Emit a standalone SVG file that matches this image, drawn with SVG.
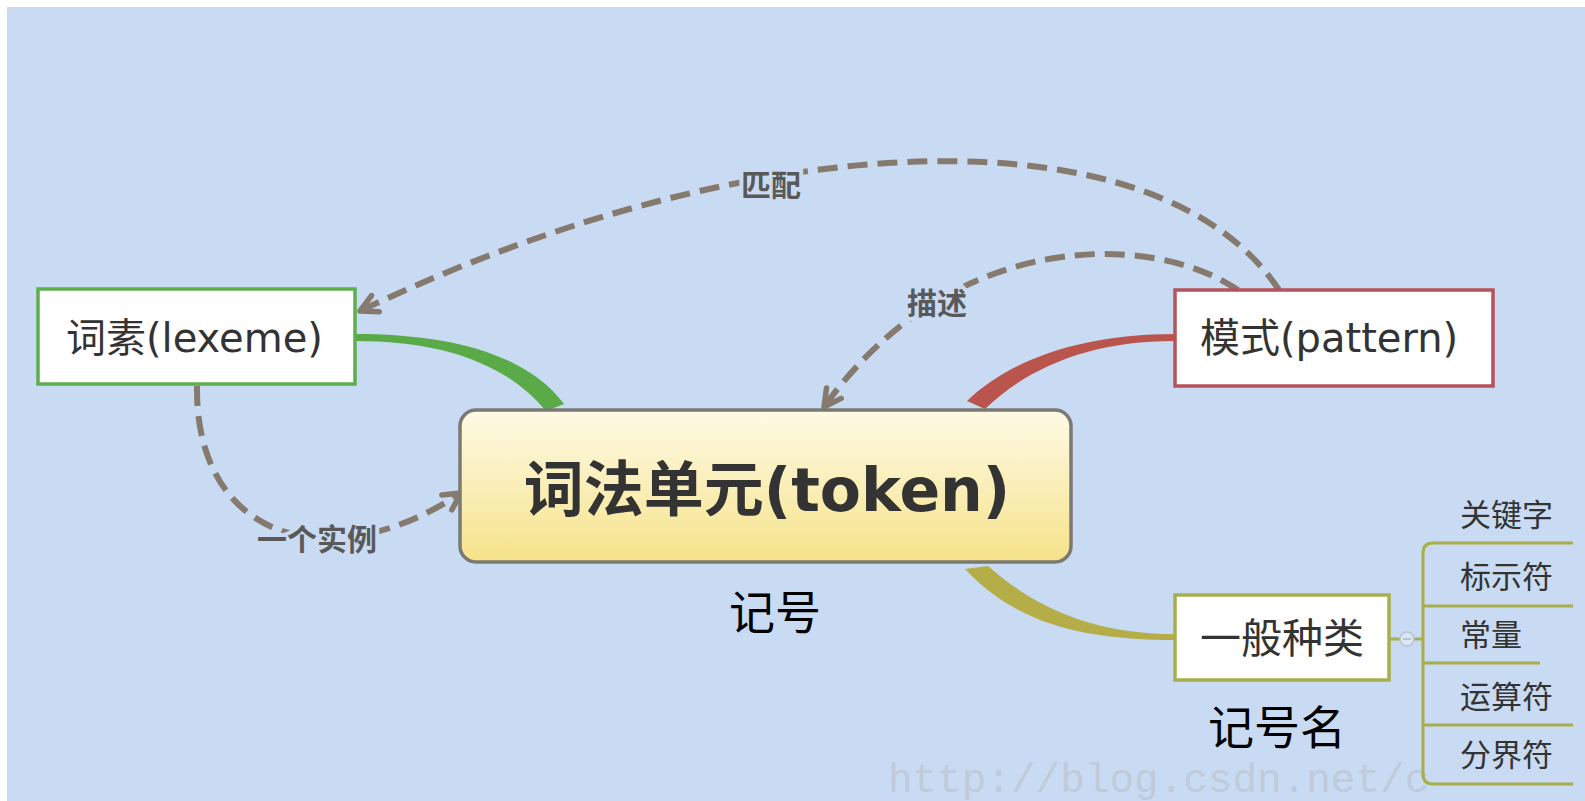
<svg xmlns="http://www.w3.org/2000/svg" width="1585" height="801" viewBox="0 0 1585 801">
<defs>
<linearGradient id="tokGrad" x1="0" y1="0" x2="0" y2="1">
<stop offset="0" stop-color="#fefae6"/>
<stop offset="1" stop-color="#f6e38a"/>
</linearGradient>
<marker id="arr" viewBox="0 0 24 24" markerWidth="24" markerHeight="24" refX="21" refY="12" orient="auto" markerUnits="userSpaceOnUse">
<path d="M4,3 L21,12 L4,21" fill="none" stroke="#867a6f" stroke-width="5.5" stroke-linecap="round" stroke-linejoin="round"/>
</marker>
<style>
.dash{fill:none;stroke:#867a6f;stroke-width:6;stroke-dasharray:20 10}
.node{font-family:"DejaVu Sans","Noto Sans CJK SC",sans-serif;fill:#333}
.lbl{font-family:"Noto Sans CJK SC",sans-serif;font-weight:bold;font-size:30px;fill:#595959;stroke:#c9dbf2;stroke-width:8;paint-order:stroke;text-anchor:middle}
.item{font-family:"Noto Sans CJK SC",sans-serif;font-size:31px;fill:#333}
.note{font-family:"Noto Sans CJK SC",sans-serif;font-size:46px;fill:#000;text-anchor:middle}
.bracket{fill:none;stroke:#a9ae4c;stroke-width:3}
</style>
</defs>
<rect x="0" y="0" width="1585" height="801" fill="#ffffff"/>
<rect x="7" y="7" width="1578" height="794" fill="#c9dbf2"/>
<text x="888" y="792" font-family="Liberation Mono, monospace" font-size="41" fill="#bfcbdb">http://blog.csdn.net/c</text>

<g id="connectors">
<path d="M355,334 C445,334 525,352 564,404 L546,411 C505,362 440,341 355,341 Z" fill="#5aaa48"/>
<path d="M1175,334 C1080,334 1010,360 967,401 L985,409 C1030,366 1092,341 1175,341 Z" fill="#b9554d"/>
<path d="M965,569 L988,566 C1040,612 1100,634 1176,634 L1176,640 C1088,640 1018,626 965,569 Z" fill="#b5ad47"/>
<path class="dash" d="M1279,290 C1160,110 760,120 360,311" marker-end="url(#arr)"/>
<path class="dash" d="M1238,290 C1150,230 950,230 824,407" marker-end="url(#arr)"/>
<path class="dash" d="M197,386 C195,540 330,580 461,493" marker-end="url(#arr)"/>
<text class="lbl" x="771" y="196">匹配</text>
<text class="lbl" x="937" y="314">描述</text>
<text class="lbl" x="317" y="550">一个实例</text>
<path class="bracket" d="M1573,543 L1433,543 Q1423,543 1423,553 L1423,774 Q1423,784 1433,784 L1573,784"/>
<path class="bracket" d="M1423,606 L1573,606 M1423,663 L1540,663 M1423,725 L1573,725 M1390,639 L1423,639"/>
</g>

<g id="token">
<rect x="460" y="410" width="611" height="152" rx="16" fill="url(#tokGrad)" stroke="#7b7a72" stroke-width="3.5"/>
<text class="node" x="767" y="511" font-size="60" font-weight="bold" text-anchor="middle" fill="#3a3a3a">词法单元(token)</text>
</g>
<g id="lexeme">
<rect x="38" y="289" width="317" height="95" fill="#ffffff" stroke="#5daf4e" stroke-width="3.5"/>
<text class="node" x="66" y="352" font-size="40">词素(lexeme)</text>
</g>
<g id="pattern">
<rect x="1175" y="290" width="318" height="96" fill="#ffffff" stroke="#b5525a" stroke-width="3.5"/>
<text class="node" x="1200" y="352" font-size="40">模式(pattern)</text>
</g>
<g id="category">
<rect x="1175" y="595" width="214" height="85" fill="#ffffff" stroke="#a9ae4c" stroke-width="3.5"/>
<text class="node" x="1282" y="653" font-size="41" text-anchor="middle" font-family="Noto Sans CJK SC, sans-serif">一般种类</text>
<circle cx="1407" cy="639" r="7" fill="#dde7f4" stroke="#b4c4d8" stroke-width="1.5"/>
<path d="M1403,639 L1411,639" stroke="#a8b8cc" stroke-width="1.5"/>
</g>
<g id="items">
<text class="item" x="1460" y="526">关键字</text>
<text class="item" x="1460" y="588">标示符</text>
<text class="item" x="1460" y="646">常量</text>
<text class="item" x="1460" y="708">运算符</text>
<text class="item" x="1460" y="766">分界符</text>
</g>
<text class="note" x="775" y="629">记号</text>
<text class="note" x="1277" y="744">记号名</text>
</svg>
